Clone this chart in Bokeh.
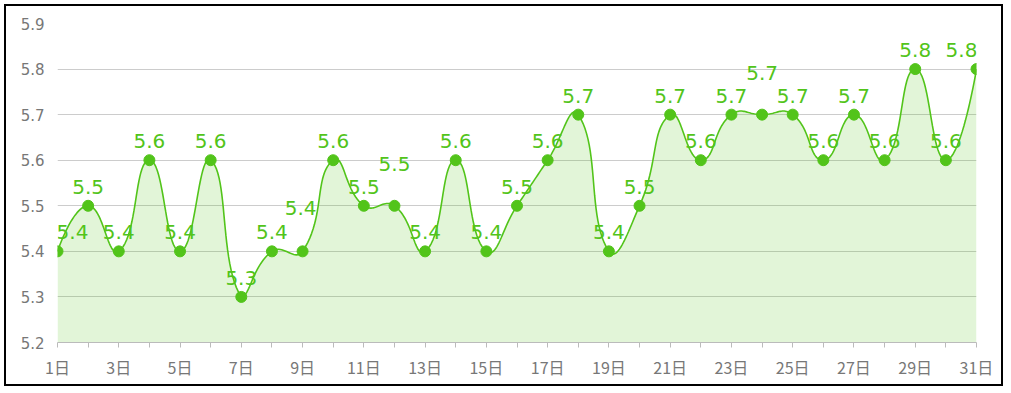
import numpy as np
from bokeh.plotting import figure
from bokeh.models import FixedTicker, ColumnDataSource, Range1d
from bokeh.core.properties import value
from bokeh.embed import file_html
from bokeh.resources import INLINE

# ---------------- data ----------------
categories = ["1日", "2日", "3日", "4日", "5日", "6日", "7日", "8日", "9日", "10日",
              "11日", "12日", "13日", "14日", "15日", "16日", "17日", "18日", "19日", "20日",
              "21日", "22日", "23日", "24日", "25日", "26日", "27日", "28日", "29日", "30日", "31日"]
values = [5.4, 5.5, 5.4, 5.6, 5.4, 5.6, 5.3, 5.4, 5.4, 5.6,
          5.5, 5.5, 5.4, 5.6, 5.4, 5.5, 5.6, 5.7, 5.4, 5.5,
          5.7, 5.6, 5.7, 5.7, 5.7, 5.6, 5.7, 5.6, 5.8, 5.6, 5.8]
y_ticks = [5.2, 5.3, 5.4, 5.5, 5.6, 5.7, 5.8, 5.9]

# ---------------- styles ----------------
GREEN = "#52c41a"
# label pixel shifts (style only): day index -> (dx, dy)
label_shift = {0: (15, 0), 8: (-2, -24), 11: (0, -23), 23: (0, -23), 30: (-15, 0)}

xs = np.arange(1, len(categories) + 1, dtype=float)
ys = np.array(values, dtype=float)

W, H = 999, 382
ML, MR, MT, MB = 51, 29, 17, 46
sx = (W - ML - MR) / (len(categories) - 1)          # px per category
sy = (H - MT - MB) / (y_ticks[-1] - y_ticks[0])     # px per unit


def echarts_smooth(x, y, smooth=0.5, steps=24):
    P = np.column_stack([x * sx, y * sy])
    mn, mx = P.min(axis=0), P.max(axis=0)
    n = len(P)
    cp0 = P[0].copy()
    out = [P[0]]
    t = np.linspace(0, 1, steps + 1)[1:, None]
    for i in range(1, n):
        p, prev = P[i], P[i - 1]
        ratio = 0.5
        if i < n - 1:
            nxt = P[i + 1]
            v = nxt - prev
            lp = np.hypot(*(p - prev))
            ln = np.hypot(*(p - nxt))
            ratio = ln / (ln + lp)
            cp1 = p - v * smooth * (1 - ratio)
        else:
            v = np.zeros(2)
            cp1 = p.copy()
        cp0 = np.clip(cp0, mn, mx)
        cp1 = np.clip(cp1, mn, mx)
        seg = ((1 - t) ** 3) * prev + 3 * ((1 - t) ** 2) * t * cp0 + 3 * (1 - t) * (t ** 2) * cp1 + (t ** 3) * p
        out.extend(seg)
        cp0 = p + v * smooth * ratio
    out = np.array(out)
    return out[:, 0] / sx, out[:, 1] / sy


cx, cy = echarts_smooth(xs, ys)

p = figure(width=W, height=H, output_backend="svg", toolbar_location=None,
           x_range=Range1d(1, len(categories)), y_range=Range1d(y_ticks[0], y_ticks[-1]),
           min_border_left=ML, min_border_right=MR, min_border_top=MT, min_border_bottom=MB)
p.outline_line_color = None
p.background_fill_color = "white"
p.border_fill_color = "white"
p.styles = {"border": "2px solid black", "margin-left": "4px", "margin-top": "4px"}

# grid
p.xgrid.grid_line_color = None
p.ygrid.ticker = FixedTicker(ticks=y_ticks)
p.ygrid.grid_line_color = "#cccccc"
p.ygrid.grid_line_width = 1

# area + line
p.varea(x=cx, y1=y_ticks[0], y2=cy, fill_color=GREEN, fill_alpha=0.17)
p.line(cx, cy, line_color=GREEN, line_width=1.6)
p.scatter(xs, ys, size=11, fill_color=GREEN, line_color=GREEN)

# labels
dx = [label_shift.get(i, (0, 0))[0] for i in range(len(values))]
dy = [label_shift.get(i, (0, 0))[1] - 19 for i in range(len(values))]
src = ColumnDataSource(dict(x=xs, y=ys, t=[f"{v:.1f}" for v in values], dx=dx, dy=dy))
p.text(x="x", y="y", text="t", source=src, x_offset="dx", y_offset="dy",
       text_align="center", text_baseline="alphabetic", text_color=GREEN,
       text_font=value("DejaVu Sans"), text_font_size="20px")

# x axis
xa = p.xaxis[0]
xa.ticker = FixedTicker(ticks=list(xs))
xa.major_label_overrides = {int(x): (categories[i] if i % 2 == 0 else "") for i, x in enumerate(xs)}
xa.axis_line_color = "#bbbbbb"
xa.major_tick_line_color = "#bbbbbb"
xa.major_tick_out = 5
xa.major_tick_in = 0
xa.minor_tick_line_color = None
xa.major_label_standoff = 7
xa.major_label_text_color = "#777777"
xa.major_label_text_font = "Noto Sans CJK SC"
xa.major_label_text_font_size = "16px"

# y axis
ya = p.yaxis[0]
ya.ticker = FixedTicker(ticks=y_ticks)
ya.axis_line_color = None
ya.major_tick_line_color = None
ya.minor_tick_line_color = None
ya.major_label_standoff = 7
ya.major_label_text_color = "#777777"
ya.major_label_text_font = "DejaVu Sans"
ya.major_label_text_font_size = "15px"

open("out.html", "w").write(file_html(p, INLINE))
